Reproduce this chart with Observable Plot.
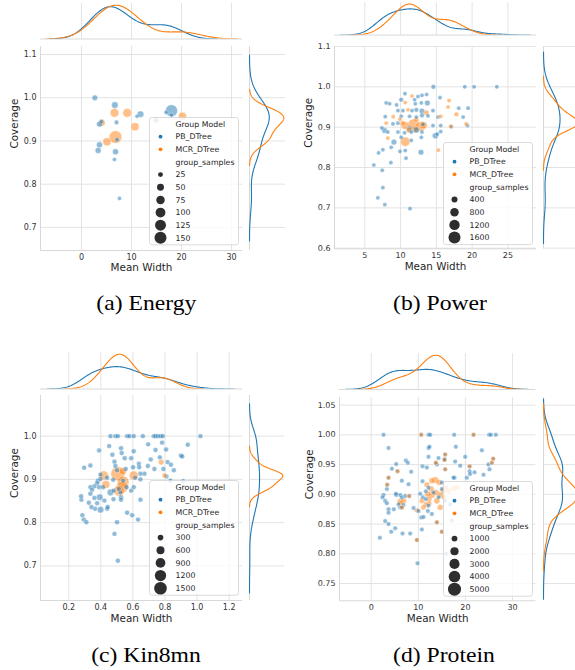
<!DOCTYPE html>
<html><head><meta charset="utf-8">
<script src="https://cdn.jsdelivr.net/npm/d3@7"></script>
<script src="https://cdn.jsdelivr.net/npm/@observablehq/plot@0.6"></script>
<style>
body{margin:0;background:#fff;}
#root{position:relative;width:575px;height:670px;overflow:hidden;background:#fff;}
#root svg{position:absolute;overflow:visible;}
</style></head><body><div id="root"></div>
<script>
// ---------- data: [Mean Width, Coverage, group_samples] ----------
const groupNames = ["PB_DTree", "MCR_DTree"];
const captions = ["(a) Energy", "(b) Power", "(c) Kin8mn", "(d) Protein"];

const energyPB = [[2.67,1.000,33],[6.67,0.983,45],[7.0,0.943,22],[11.8,0.962,45],[11.1,0.957,17],[14.9,0.948,30],[16.9,0.966,18],[18.0,0.970,150],[18.0,0.960,17],[3.6,0.939,37],[4.0,0.945,22],[3.6,0.891,37],[3.33,0.878,37],[6.8,0.875,37],[6.6,0.857,18],[7.6,0.767,18],[7.1,0.903,22]];
const energyMCR = [[6.6,0.965,78],[9.13,0.965,78],[10.7,0.933,67],[6.8,0.909,165],[5.1,0.898,67],[4.07,0.942,45],[20.2,0.957,67]];

const powerPB = [[14.58,1.000,250],[18.97,1.000,200],[20.28,1.000,200],[23.46,1.000,200],
[10.61,0.983,200],[12.43,0.976,200],[12.99,0.979,200],[13.64,0.981,200],[15.51,0.973,200],
[10.09,0.968,250],[11.96,0.968,200],[7.99,0.960,200],[8.46,0.958,200],[9.44,0.955,200],[12.06,0.958,200],[12.90,0.960,200],[13.74,0.960,350],
[18.13,0.947,200],[19.44,0.947,200],
[9.63,0.941,200],[10.33,0.941,200],[11.59,0.941,200],[12.20,0.943,250],[12.99,0.940,350],[14.53,0.941,200],
[7.85,0.926,200],[10.09,0.927,200],[11.26,0.927,200],[12.20,0.925,200],[12.99,0.929,250],[13.83,0.928,200],[15.23,0.925,200],[18.74,0.925,200],
[9.63,0.910,200],[8.93,0.908,200],[11.26,0.896,400],[12.20,0.893,400],[13.13,0.907,200],[14.53,0.904,200],[15.61,0.904,200],[19.35,0.904,200],[17.10,0.901,200],
[7.38,0.898,200],[7.76,0.892,350],[8.22,0.888,200],[9.63,0.888,200],[10.56,0.886,200],[11.50,0.888,200],[12.99,0.888,200],[14.86,0.879,400],[15.61,0.889,200],[15.14,0.883,200],
[9.07,0.863,350],[11.50,0.867,200],[10.09,0.875,200],[12.90,0.875,200],
[8.69,0.850,200],[9.91,0.840,200],[10.65,0.842,200],[12.85,0.838,350],[7.52,0.844,200],[6.92,0.836,200],
[6.26,0.806,200],[8.64,0.812,200],[10.75,0.823,200],[7.43,0.793,200],[7.52,0.750,200],[6.82,0.725,200],[7.80,0.708,200],[11.31,0.698,200]];
const powerMCR = [[11.59,0.977,200],[10.65,0.961,200],[16.78,0.966,200],[16.64,0.950,200],[11.03,0.943,200],[13.60,0.936,300],[12.20,0.919,300],[8.97,0.926,200],[9.90,0.920,200],[15.61,0.927,200],[17.80,0.932,250],[7.99,0.910,200],[10.30,0.910,300],[10.65,0.904,700],[11.78,0.907,1300],[12.80,0.902,1100],[13.20,0.905,600],[12.00,0.895,500],[11.20,0.893,400],[17.01,0.902,200],[19.16,0.908,200],[8.22,0.873,200],[10.65,0.864,1000],[15.28,0.843,200]];

const kinPB = [[0.460,1.000,230],[0.491,1.000,230],[0.506,1.000,230],[0.564,1.000,230],[0.578,1.000,230],[0.605,1.000,230],[0.662,1.000,230],[0.730,1.000,230],[0.740,1.000,230],[0.755,1.000,230],[0.772,1.000,230],[0.786,1.000,230],[1.021,1.000,230],
[0.695,0.981,230],[0.782,0.985,230],[0.741,0.968,230],[0.807,0.969,230],[0.942,0.980,230],[0.452,0.977,230],[0.389,0.967,230],[0.526,0.972,230],[0.472,0.957,230],[0.530,0.961,230],[0.605,0.965,230],[0.549,0.949,230],[0.485,0.941,230],[0.589,0.949,230],[0.335,0.932,230],[0.296,0.927,230],[0.637,0.936,230],[0.711,0.946,230],[0.768,0.951,230],[0.816,0.940,230],[0.837,0.934,230],[0.855,0.921,230],[0.790,0.924,230],[0.734,0.924,230],[0.693,0.931,230],[0.639,0.928,230],[0.601,0.928,230],[0.555,0.924,230],[0.491,0.931,230],[0.501,0.921,230],[0.899,0.955,230],[0.907,0.953,230],[0.913,0.896,230],[0.834,0.897,230],[0.809,0.907,230],[0.672,0.913,230],[0.647,0.913,230],[0.614,0.904,230],[0.647,0.900,230],[0.605,0.882,230],[0.539,0.897,230],[0.477,0.899,230],[0.439,0.904,230],[0.398,0.911,230],[0.381,0.897,230],[0.398,0.901,230],[0.377,0.891,230],[0.360,0.884,230],[0.335,0.882,230],[0.346,0.876,230],[0.389,0.882,230],[0.414,0.882,230],[0.460,0.870,400],[0.393,0.859,400],[0.360,0.857,230],[0.377,0.845,230],[0.398,0.830,400],[0.364,0.832,230],[0.325,0.846,230],[0.279,0.853,230],[0.335,0.867,230],[0.439,0.832,230],[0.443,0.836,230],[0.422,0.851,230],[0.479,0.854,230],[0.526,0.859,230],[0.526,0.853,230],[0.480,0.874,230],[0.522,0.870,230],[0.512,0.878,230],[0.589,0.874,230],[0.560,0.882,230],[0.647,0.853,230],[0.564,0.823,230],[0.595,0.817,230],[0.632,0.807,230],[0.501,0.801,230],[0.485,0.774,230],[0.506,0.712,230],[0.285,0.817,230],[0.294,0.807,230],[0.310,0.801,230],[0.277,0.861,230],[0.341,0.836,230]];
const kinMCR = [[0.776,0.940,300],[0.797,0.909,230],[0.506,0.913,1850],[0.418,0.909,800],[0.431,0.888,600],[0.605,0.909,750],[0.539,0.894,1300],[0.533,0.882,1300],[0.514,0.874,1100],[0.537,0.919,500]];

const proteinPB = [[2.62,1.000,600],[12.17,1.000,600],[12.53,1.000,600],[17.62,1.000,600],[25.05,1.000,600],[25.41,1.000,600],[26.47,1.000,600],
[3.68,0.978,600],[12.17,0.978,600],[12.38,0.980,600],[17.98,0.980,600],[23.5,0.974,600],
[12.17,0.963,600],[14.3,0.961,600],[15.57,0.959,600],[19.96,0.963,600],[7.36,0.957,600],[7.78,0.953,600],[5.31,0.951,600],[4.39,0.943,600],[8.49,0.938,600],[11.82,0.945,600],[10.9,0.947,600],[13.94,0.950,600],[17.83,0.955,600],[18.9,0.948,600],[20.9,0.939,600],[21.94,0.937,600],[23.85,0.933,600],[24.9,0.950,600],[25.12,0.942,600],[20.3,0.928,600],[20.98,0.934,600],[17.7,0.928,600],[7.93,0.917,600],[6.51,0.923,600],[10.9,0.922,600],
[2.62,0.899,600],[2.4,0.895,600],[3.33,0.909,600],[2.97,0.889,600],[3.33,0.885,600],[3.68,0.875,600],[3.68,0.869,600],[2.97,0.855,600],[3.68,0.850,600],[4.25,0.837,600],[5.1,0.843,600],[1.84,0.827,600],[6.65,0.834,600],[8.28,0.834,600],
[5.31,0.899,600],[5.24,0.901,600],[6.16,0.899,600],[6.51,0.895,600],[7.22,0.897,600],[5.8,0.883,600],[4.81,0.875,600],[6.16,0.878,600],[6.85,0.882,600],[8.99,0.877,600],[10.05,0.872,600],[10.62,0.861,600],[11.11,0.862,600],[10.76,0.841,600],[9.84,0.784,600],
[10.4,0.901,600],[10.97,0.895,600],[11.6,0.892,600],[12.17,0.881,600],[12.03,0.872,600],[12.88,0.867,600],[13.23,0.903,600],[14.3,0.895,600],[15.0,0.909,600],[15.71,0.889,600],[16.77,0.883,600],[17.48,0.928,600],[11.6,0.905,600],[12.17,0.911,600],[15.0,0.920,600],[15.9,0.800,600],[17.1,0.856,600],
[10.62,1.000,600],[21.73,1.000,600],[15.71,0.967,600],[15.57,0.958,600],[15.71,0.942,600],[20.9,0.947,600],[13.73,0.953,600],[3.68,0.928,600],[3.4,0.916,600],[5.59,0.939,600],[6.51,0.878,600],[8.07,0.897,600],[9.7,0.823,600],[15.0,0.837,600],[13.94,0.853,600],[25.9,0.960,600],[25.62,0.953,600]];
const proteinMCR = [[10.62,1.000,600],[21.73,1.000,600],[15.71,0.967,600],[15.57,0.958,600],[15.71,0.942,600],[20.9,0.947,600],[25.62,0.953,600],[25.9,0.960,600],[13.73,0.953,600],[3.68,0.928,600],[3.4,0.916,600],[5.59,0.939,600],[6.51,0.878,600],[8.07,0.897,600],[9.7,0.823,600],[15.0,0.837,600],[13.94,0.853,600],[12.3,0.885,800],[6.16,0.888,1100],[6.86,0.889,1100],[6.23,0.885,900],[9.7,0.873,700],
[12.88,0.923,1000],[13.59,0.924,1300],[14.44,0.920,1000],[11.82,0.916,900],[12.74,0.909,1000],[12.03,0.900,1100],[12.88,0.899,1300],[13.73,0.903,1100],[14.65,0.899,1100],[15.36,0.906,1000],[15.57,0.895,1000],[12.31,0.892,900],[11.6,0.883,800],[10.76,0.889,900],[11.1,0.878,800],[13.94,0.889,1100],[14.65,0.878,1000],[15.92,0.911,800],[16.5,0.905,900],[17.5,0.910,900],[18.3,0.912,800]];

const energySizeTicks = [25,50,75,100,125,150];
const powerSizeTicks = [400,800,1200,1600];
const kinSizeTicks = [300,600,900,1200,1500];
const proteinSizeTicks = [1000,2000,3000,4000,5000];

const energyXTicks = [0,10,20,30], energyYTicks = [0.7,0.8,0.9,1.0,1.1];
const powerXTicks = [5,10,15,20,25], powerYTicks = [0.6,0.7,0.8,0.9,1.0,1.1];
const kinXTicks = [0.2,0.4,0.6,0.8,1.0,1.2], kinYTicks = [0.7,0.8,0.9,1.0];
const proteinXTicks = [0,10,20,30], proteinYTicks = [0.75,0.80,0.85,0.90,0.95,1.00,1.05];

// ---------- layout ----------
const panels = [
 {pb:energyPB, mcr:energyMCR, sizes:energySizeTicks, xt:energyXTicks, yt:energyYTicks, xf:"d", yf:".1f",
  frame:{l:40,t:46,w:202,h:204}, xd:[-8.2,32.2], yd:[0.6465,1.1186], rmax:150, rpx:6,
  top:{base:38,h:35.5}, right:{l:249,w:36}, legend:{x:149,y:117}, xlab:20.3, ylab:-26, cap:{x:146.3,y:310}},
 {pb:powerPB, mcr:powerMCR, sizes:powerSizeTicks, xt:powerXTicks, yt:powerYTicks, xf:"d", yf:".1f",
  frame:{l:334,t:46,w:202,h:202.3}, xd:[0.76,29.0], yd:[0.5985,1.1], rmax:1600, rpx:6,
  top:{base:35,h:32.6}, right:{l:543,w:36}, legend:{x:443.3,y:142.7}, xlab:21.5, ylab:-25.7, cap:{x:440,y:310}},
 {pb:kinPB, mcr:kinMCR, sizes:kinSizeTicks, xt:kinXTicks, yt:kinYTicks, xf:".1f", yf:".1f",
  frame:{l:40,t:395,w:202,h:205}, xd:[0.024,1.283], yd:[0.62,1.094], rmax:1500, rpx:6.3,
  top:{base:388,h:36.5}, right:{l:249.3,w:35}, legend:{x:149,y:480.7}, xlab:21.2, ylab:-26, cap:{x:146,y:662}},
 {pb:proteinPB, mcr:proteinMCR, sizes:proteinSizeTicks, xt:proteinXTicks, yt:proteinYTicks, xf:"d", yf:".2f",
  frame:{l:339.3,t:396.7,w:196.4,h:203.3}, xd:[-6.73,34.97], yd:[0.721,1.0628], rmax:5000, rpx:6.5,
  top:{base:389,h:36}, right:{l:543,w:36}, legend:{x:443.3,y:481.7}, xlab:21.2, ylab:-30.3, cap:{x:444,y:661.7}}
];

const GRID = "#e3e3e3", SPINE = "#d8d8d8", TXT = "#262626";
const COLORS = ["#1f77b4", "#ff7f0e"];
const colorScale = {domain: groupNames, range: COLORS};
const root = document.getElementById("root");

function kde(vals, g) {
  const n = vals.length, sd = d3.deviation(vals), bw = sd * Math.pow(n, -0.2);
  const lo = d3.min(vals) - 3 * bw, hi = d3.max(vals) + 3 * bw;
  return d3.range(200).map(i => {
    const t = lo + (hi - lo) * i / 199;
    const dens = d3.mean(vals, x => Math.exp(-0.5 * ((t - x) / bw) ** 2)) / (bw * Math.sqrt(2 * Math.PI));
    return {v: t, d: dens, g};
  });
}

function place(el, left, top) {
  el.style.left = left + "px"; el.style.top = top + "px"; root.appendChild(el);
}

// captions underlay
const capSvg = d3.create("svg").attr("width", 575).attr("height", 670).style("left","0px").style("top","0px");
panels.forEach((p, i) => {
  capSvg.append("text").attr("transform", `translate(${p.cap.x},${p.cap.y}) scale(1.1,1)`)
    .attr("text-anchor", "middle").attr("font-family", "Liberation Serif, Times New Roman, serif")
    .attr("font-size", 21.5).attr("fill", "#000").text(captions[i]);
});
root.appendChild(capSvg.node());

panels.forEach(p => {
  const F = p.frame;
  const data = [];
  p.pb.forEach(d => data.push({x:d[0], y:d[1], n:d[2], g:groupNames[0]}));
  p.mcr.forEach(d => data.push({x:d[0], y:d[1], n:d[2], g:groupNames[1]}));
  const mL = 46, mR = 6, mT = 6, mB = 34;
  const main = Plot.plot({
    width: F.w + mL + mR, height: F.h + mT + mB,
    marginLeft: mL, marginRight: mR, marginTop: mT, marginBottom: mB,
    style: {fontFamily: "DejaVu Sans", fontSize: "8px", color: "#333", background: "transparent", overflow: "visible"},
    x: {domain: p.xd, ticks: p.xt, tickFormat: d3.format(p.xf), tickSize: 0, tickPadding: 3.5, label: null},
    y: {domain: p.yd, ticks: p.yt, tickFormat: d3.format(p.yf), tickSize: 0, tickPadding: 4, label: null},
    r: {domain: [0, p.rmax], range: [0, p.rpx]},
    color: colorScale,
    marks: [
      Plot.ruleX(p.xt, {stroke: GRID, strokeWidth: 1}),
      Plot.ruleY(p.yt, {stroke: GRID, strokeWidth: 1}),
      Plot.ruleX([p.xd[0]], {stroke: SPINE}),
      Plot.ruleY([p.yd[0]], {stroke: SPINE}),
      Plot.dot(data, {x: "x", y: "y", r: "n", fill: "g", fillOpacity: 0.5, stroke: "white", strokeWidth: 0.6, strokeOpacity: 0.6}),
      Plot.text(["Mean Width"], {text: d => d, frameAnchor: "bottom", dy: p.xlab, fontSize: 10.4, fill: TXT}),
      Plot.text(["Coverage"], {text: d => d, frameAnchor: "left", dx: p.ylab, rotate: -90, fontSize: 10.4, fill: TXT})
    ]
  });
  place(main, F.l - mL, F.t - mT);

  // top marginal KDE
  const kx = kde(p.pb.map(d => d[0]), groupNames[0]).concat(kde(p.mcr.map(d => d[0]), groupNames[1]));
  const topPlot = Plot.plot({
    width: F.w, height: p.top.h, margin: 0,
    style: {background: "transparent", overflow: "visible"},
    x: {domain: p.xd, axis: null}, y: {domain: [0, d3.max(kx, d => d.d) * 1.05], axis: null},
    color: colorScale,
    marks: [
      Plot.ruleX(p.xt, {stroke: GRID}),
      Plot.ruleY([0], {stroke: SPINE}),
      Plot.line(kx, {x: "v", y: "d", stroke: "g", z: "g", strokeWidth: 1.1, clip: true})
    ]
  });
  place(topPlot, F.l, p.top.base - p.top.h);

  // right marginal KDE
  const ky = kde(p.pb.map(d => d[1]), groupNames[0]).concat(kde(p.mcr.map(d => d[1]), groupNames[1]));
  const rightPlot = Plot.plot({
    width: p.right.w, height: F.h, margin: 0,
    style: {background: "transparent", overflow: "visible"},
    x: {domain: [0, d3.max(ky, d => d.d) * 1.05], axis: null}, y: {domain: p.yd, axis: null},
    color: colorScale,
    marks: [
      Plot.ruleY(p.yt, {stroke: GRID}),
      Plot.ruleX([0], {stroke: SPINE}),
      Plot.line(ky, {x: "d", y: "v", stroke: "g", z: "g", strokeWidth: 1.1, clip: true})
    ]
  });
  place(rightPlot, p.right.l, F.t);

  // legend
  let rFn;
  try { const s = main.scale("r"); rFn = v => s.apply(v); } catch (e) { rFn = d3.scaleSqrt().domain([0, p.rmax]).range([0, p.rpx]); }
  const items = [{t: "Group Model"}, {t: groupNames[0], c: COLORS[0]}, {t: groupNames[1], c: COLORS[1]}, {t: "group_samples"}]
    .concat(p.sizes.map(v => ({t: String(v), r: rFn(v)})));
  const W = 89, step = 12.65, H = 6.5 + (items.length - 1) * step + 7;
  const lg = d3.create("svg").attr("width", W + 2).attr("height", H + 2);
  lg.append("rect").attr("x", 0.5).attr("y", 0.5).attr("width", W).attr("height", H).attr("rx", 2.5)
    .attr("fill", "white").attr("fill-opacity", 0.8).attr("stroke", "#d2d2d2").attr("stroke-width", 0.8);
  items.forEach((it, i) => {
    const cy = 0.5 + 6.5 + i * step;
    if (it.c) lg.append("circle").attr("cx", 11.5).attr("cy", cy).attr("r", 1.9).attr("fill", it.c);
    if (it.r) lg.append("circle").attr("cx", 11.5).attr("cy", cy).attr("r", it.r).attr("fill", "#2e2e2e");
    lg.append("text").attr("x", 26.5).attr("y", cy).attr("dy", "0.35em").attr("font-family", "DejaVu Sans")
      .attr("font-size", 7.8).attr("fill", TXT).text(it.t);
  });
  place(lg.node(), p.legend.x - 0.5, p.legend.y - 0.5);
});
</script></body></html>
